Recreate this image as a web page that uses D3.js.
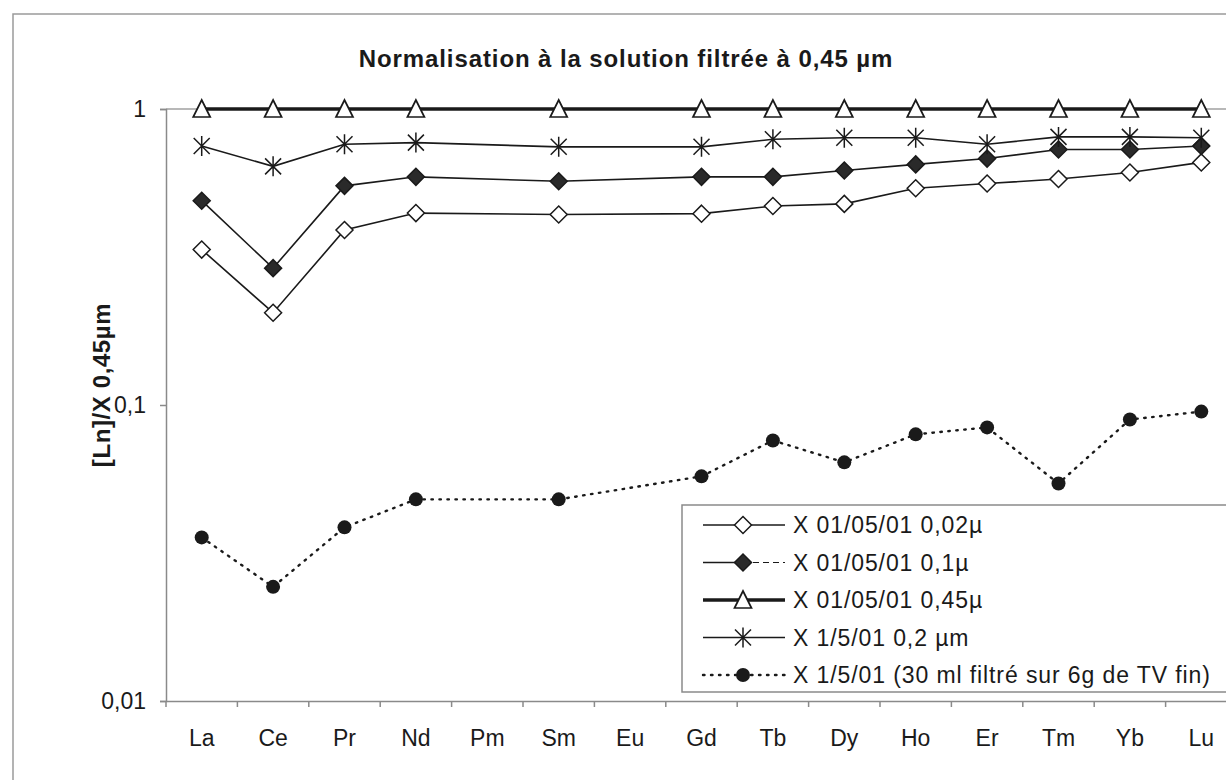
<!DOCTYPE html>
<html>
<head>
<meta charset="utf-8">
<script src="https://cdn.jsdelivr.net/npm/d3@7"></script>
<style>
  html, body { margin: 0; padding: 0; background: #fff; }
  svg { display: block; font-family: Arial, "Liberation Sans", sans-serif; }
</style>
</head>
<body>
<svg id="chart" width="1226" height="780"></svg>
<script>
// Categories (rare earth elements), Pm and Eu have no data
var elements = ["La", "Ce", "Pr", "Nd", "Pm", "Sm", "Eu", "Gd", "Tb", "Dy", "Ho", "Er", "Tm", "Yb", "Lu"];

var s002 = [0.335, 0.205, 0.39, 0.445, null, 0.44, null, 0.443, 0.47, 0.478, 0.54, 0.56, 0.58, 0.61, 0.66];
var s01  = [0.49, 0.29, 0.55, 0.59, null, 0.57, null, 0.59, 0.59, 0.62, 0.65, 0.68, 0.73, 0.73, 0.75];
var s045 = [1, 1, 1, 1, null, 1, null, 1, 1, 1, 1, 1, 1, 1, 1];
var s02  = [0.75, 0.64, 0.76, 0.77, null, 0.745, null, 0.745, 0.79, 0.80, 0.80, 0.76, 0.805, 0.805, 0.80];
var s30ml = [0.0357, 0.0243, 0.0386, 0.048, null, 0.048, null, 0.0574, 0.0759, 0.064, 0.0796, 0.084, 0.0543, 0.0893, 0.095];

var seriesNames = [
    "X 01/05/01 0,02\u00b5",
    "X 01/05/01 0,1\u00b5",
    "X 01/05/01 0,45\u00b5",
    "X 1/5/01 0,2 \u00b5m",
    "X 1/5/01 (30 ml filtr\u00e9 sur 6g de TV fin)"
];
var yTicks = [0.01, 0.1, 1];

var ink = "#1a1a1a";
var axisGrey = "#8a8a8a";

var series = [
    { name: seriesNames[0], values: s002, marker: "diamondOpen", width: 1.6, dash: null },
    { name: seriesNames[1], values: s01, marker: "diamondFilled", width: 1.6, dash: null },
    { name: seriesNames[2], values: s045, marker: "triangle", width: 3.6, dash: null },
    { name: seriesNames[3], values: s02, marker: "asterisk", width: 1.6, dash: null },
    { name: seriesNames[4], values: s30ml, marker: "circle", width: 2.4, dash: "1.5,6.5" }
];

var svg = d3.select("#chart");

var x = d3.scaleBand().domain(elements).range([166, 1237]).padding(0);
var y = d3.scaleLog().domain([0.01, 1]).range([701, 109]);
var cx = function (e) { return x(e) + x.bandwidth() / 2; };

// outer chart frame (cut by the scan on right and bottom)
svg.append("rect")
    .attr("x", 13).attr("y", 14)
    .attr("width", 1400).attr("height", 900)
    .attr("fill", "none")
    .attr("stroke", "#9a9a9a")
    .attr("stroke-width", 1.5);

// title
svg.append("text")
    .attr("x", 626).attr("y", 67)
    .attr("text-anchor", "middle")
    .attr("font-weight", "bold")
    .attr("font-size", 24)
    .attr("letter-spacing", 0.9)
    .attr("fill", ink)
    .text("Normalisation \u00e0 la solution filtr\u00e9e \u00e0 0,45 \u00b5m");

// y axis label
svg.append("text")
    .attr("transform", "translate(110,385) rotate(-90)")
    .attr("text-anchor", "middle")
    .attr("font-weight", "bold")
    .attr("font-size", 24)
    .attr("letter-spacing", 0.6)
    .attr("fill", ink)
    .text("[Ln]/X 0,45\u00b5m");

// horizontal line at the top value
svg.append("line")
    .attr("x1", 166).attr("x2", 1226)
    .attr("y1", y(1)).attr("y2", y(1))
    .attr("stroke", "#a0a0a0")
    .attr("stroke-width", 1.5);

// y axis
var yAxis = svg.append("g")
    .attr("transform", "translate(166,0)")
    .call(d3.axisLeft(y).tickValues(yTicks).tickSize(6).tickPadding(14)
        .tickFormat(function (d) { return String(d).replace(".", ","); }));
yAxis.select(".domain").attr("stroke", axisGrey).attr("stroke-width", 1.5);
yAxis.selectAll(".tick line").attr("stroke", axisGrey).attr("stroke-width", 1.5);
yAxis.selectAll(".tick text").attr("font-size", 23).attr("fill", ink).attr("font-family", "Arial, 'Liberation Sans', sans-serif");

// x axis, labels centred in each band, ticks at band edges
var xAxis = svg.append("g")
    .attr("transform", "translate(0," + y(0.01) + ")")
    .call(d3.axisBottom(x).tickSize(0).tickPadding(29));
xAxis.select(".domain").attr("stroke", axisGrey).attr("stroke-width", 1.5);
xAxis.selectAll(".tick text").attr("font-size", 23).attr("fill", ink).attr("font-family", "Arial, 'Liberation Sans', sans-serif");
xAxis.selectAll(".edge")
    .data(elements)
    .enter().append("line")
    .attr("class", "edge")
    .attr("x1", function (d) { return x(d); })
    .attr("x2", function (d) { return x(d); })
    .attr("y1", 0).attr("y2", 6)
    .attr("stroke", axisGrey)
    .attr("stroke-width", 1.5);

// marker drawing
function drawMarker(g, type, px, py) {
    if (type === "diamondOpen" || type === "diamondFilled") {
        var r = 8.5;
        g.append("path")
            .attr("d", "M" + px + "," + (py - r) + "L" + (px + r) + "," + py + "L" + px + "," + (py + r) + "L" + (px - r) + "," + py + "Z")
            .attr("fill", type === "diamondOpen" ? "#fff" : "#2a2a2a")
            .attr("stroke", ink)
            .attr("stroke-width", 1.5);
    } else if (type === "triangle") {
        g.append("path")
            .attr("d", "M" + px + "," + (py - 9) + "L" + (px + 8.5) + "," + (py + 8) + "L" + (px - 8.5) + "," + (py + 8) + "Z")
            .attr("fill", "#fff")
            .attr("stroke", ink)
            .attr("stroke-width", 1.7);
    } else if (type === "asterisk") {
        var a = 10, b = 8;
        g.append("path")
            .attr("d", "M" + px + "," + (py - a) + "L" + px + "," + (py + a) +
                "M" + (px - b) + "," + (py - b) + "L" + (px + b) + "," + (py + b) +
                "M" + (px + b) + "," + (py - b) + "L" + (px - b) + "," + (py + b))
            .attr("fill", "none")
            .attr("stroke", ink)
            .attr("stroke-width", 1.5);
    } else if (type === "circle") {
        g.append("circle")
            .attr("cx", px).attr("cy", py).attr("r", 7)
            .attr("fill", "#1a1a1a");
    }
}

var line = d3.line()
    .x(function (d) { return cx(d.el); })
    .y(function (d) { return y(d.v); });

series.forEach(function (s) {
    var pts = elements.map(function (el, i) { return { el: el, v: s.values[i] }; })
        .filter(function (d) { return d.v !== null; });
    var g = svg.append("g");
    g.append("path")
        .datum(pts)
        .attr("d", line)
        .attr("fill", "none")
        .attr("stroke", ink)
        .attr("stroke-width", s.width)
        .attr("stroke-linecap", s.dash ? "round" : "butt")
        .attr("stroke-dasharray", s.dash);
    pts.forEach(function (d) { drawMarker(g, s.marker, cx(d.el), y(d.v)); });
});

// legend
var legend = svg.append("g").attr("transform", "translate(682,505)");
legend.append("rect")
    .attr("x", 0).attr("y", 0)
    .attr("width", 600).attr("height", 187)
    .attr("fill", "#fff")
    .attr("stroke", "#8a8a8a")
    .attr("stroke-width", 1.5);

series.forEach(function (s, i) {
    var ly = 20 + i * 37.5;
    var g = legend.append("g");
    if (i === 1) {
        g.append("line").attr("x1", 21).attr("x2", 61).attr("y1", ly).attr("y2", ly)
            .attr("stroke", ink).attr("stroke-width", 1.5);
        g.append("line").attr("x1", 61).attr("x2", 103).attr("y1", ly).attr("y2", ly)
            .attr("stroke", ink).attr("stroke-width", 1.2).attr("stroke-dasharray", "6,4");
    } else {
        g.append("line").attr("x1", 21).attr("x2", 103).attr("y1", ly).attr("y2", ly)
            .attr("stroke", ink)
            .attr("stroke-width", s.width)
            .attr("stroke-linecap", s.dash ? "round" : "butt")
            .attr("stroke-dasharray", s.dash);
    }
    drawMarker(g, s.marker, 61, ly);
    g.append("text")
        .attr("x", 111).attr("y", ly + 8)
        .attr("font-size", 23)
        .attr("letter-spacing", 0.9)
        .attr("fill", ink)
        .text(s.name);
});
</script>
</body>
</html>
